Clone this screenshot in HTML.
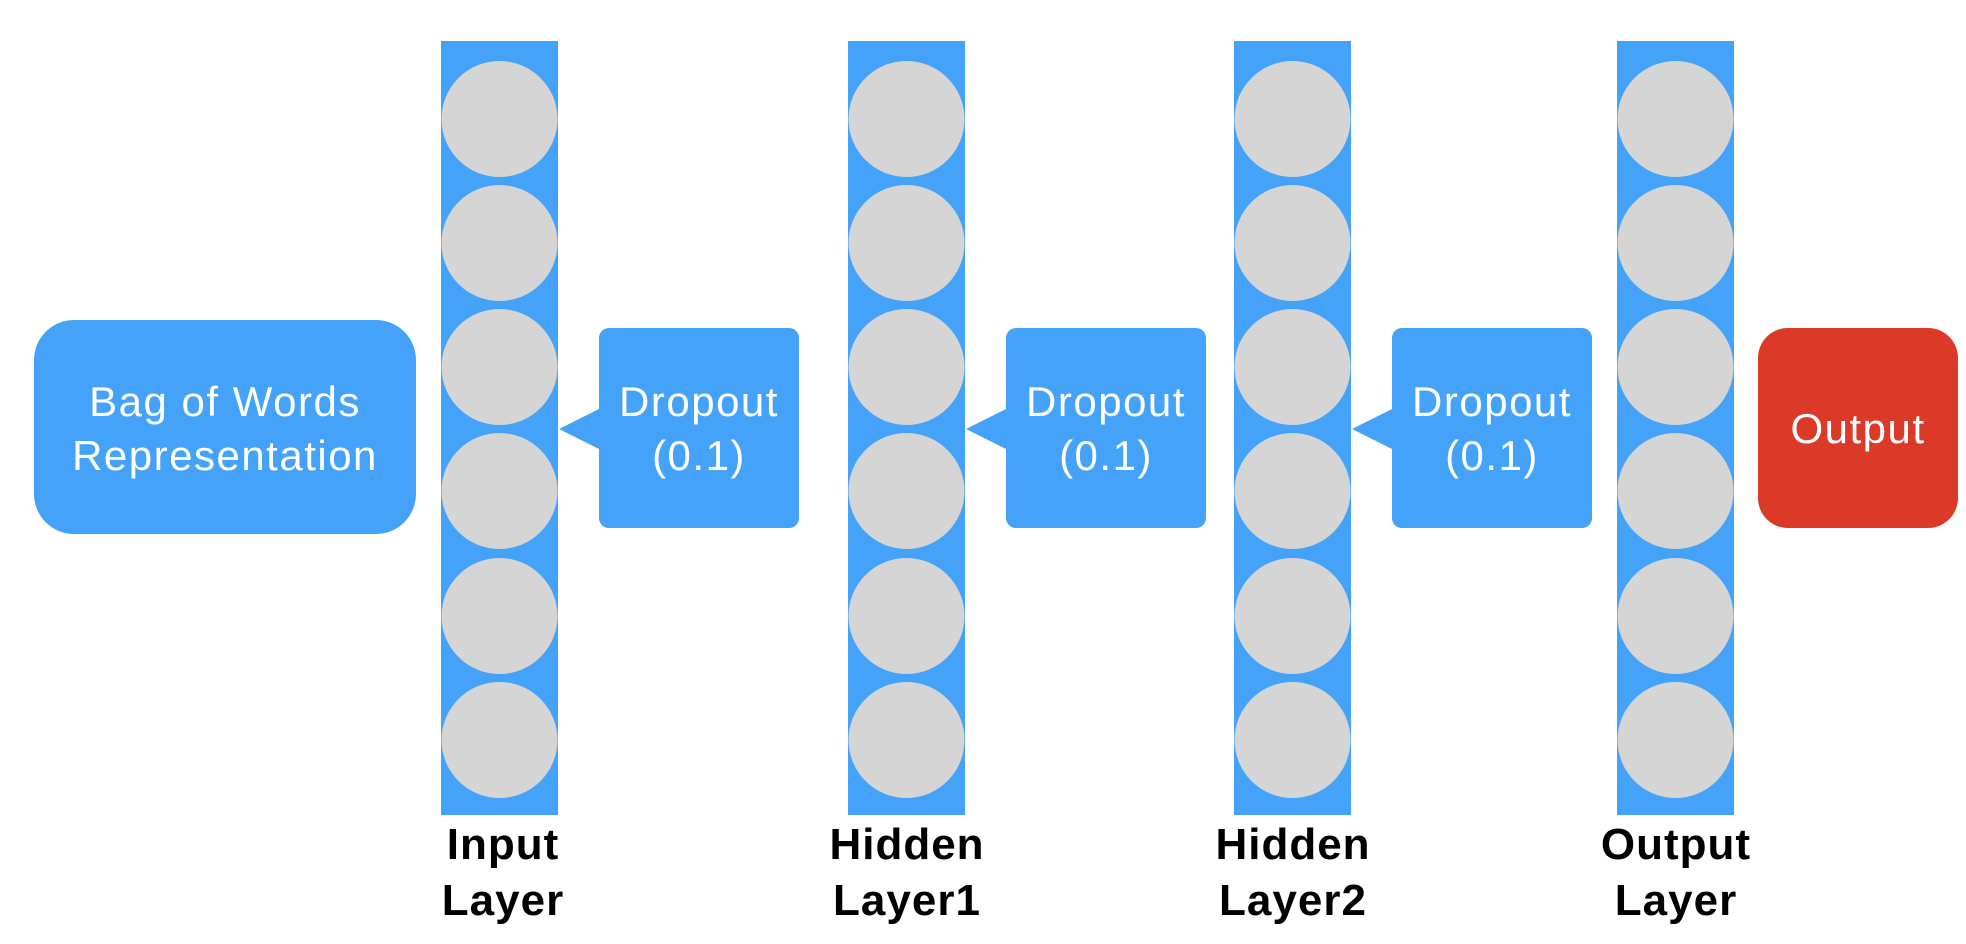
<!DOCTYPE html>
<html><head><meta charset="utf-8"><style>
html,body{margin:0;padding:0;background:#fff;}
svg{display:block;}
text{font-family:"Liberation Sans",Helvetica,Arial,sans-serif;}
</style></head><body>
<svg width="1966" height="944" viewBox="0 0 1966 944" xmlns="http://www.w3.org/2000/svg">
<defs>
<g id="col">
<rect x="0" y="41" width="117" height="774" fill="#44a3f8"/>
<circle cx="58.5" cy="119" r="58" fill="#d5d5d5"/>
<circle cx="58.5" cy="243" r="58" fill="#d5d5d5"/>
<circle cx="58.5" cy="367" r="58" fill="#d5d5d5"/>
<circle cx="58.5" cy="491" r="58" fill="#d5d5d5"/>
<circle cx="58.5" cy="616" r="58" fill="#d5d5d5"/>
<circle cx="58.5" cy="740" r="58" fill="#d5d5d5"/>
</g>
<g id="drop">
<rect x="40" y="328" width="200" height="200" rx="10" fill="#44a3f8"/>
<polygon points="0,429 42,408 42,450" fill="#44a3f8"/>
<text x="140" y="416" font-size="42" letter-spacing="1.5" fill="#fff" text-anchor="middle">Dropout</text>
<text x="140" y="470" font-size="42" letter-spacing="1.5" fill="#fff" text-anchor="middle">(0.1)</text>
</g>
</defs>
<rect x="34" y="320" width="382" height="214" rx="40" fill="#44a3f8"/>
<text x="225" y="416" font-size="42" letter-spacing="1.5" fill="#fff" text-anchor="middle">Bag of Words</text>
<text x="225" y="470" font-size="42" letter-spacing="1.5" fill="#fff" text-anchor="middle">Representation</text>

<use href="#col" x="441"/>
<use href="#col" x="848"/>
<use href="#col" x="1234"/>
<use href="#col" x="1617"/>

<use href="#drop" x="559"/>
<use href="#drop" x="966"/>
<use href="#drop" x="1352"/>

<rect x="1758" y="328" width="200" height="200" rx="30" fill="#db3a28"/>
<text x="1858" y="443" font-size="42" letter-spacing="1.5" fill="#fff" text-anchor="middle">Output</text>

<g font-size="44" font-weight="bold" letter-spacing="1" fill="#000" text-anchor="middle">
<text x="503" y="859">Input</text><text x="503" y="915">Layer</text>
<text x="907" y="859">Hidden</text><text x="907" y="915">Layer1</text>
<text x="1293" y="859">Hidden</text><text x="1293" y="915">Layer2</text>
<text x="1676" y="859">Output</text><text x="1676" y="915">Layer</text>
</g>
</svg>
</body></html>
